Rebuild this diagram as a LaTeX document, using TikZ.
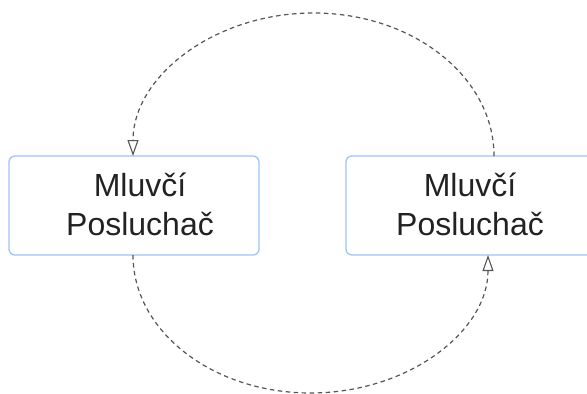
\documentclass[tikz,border=0pt]{standalone}
\usepackage{fontspec}
\setmainfont{Liberation Sans}
\usetikzlibrary{arrows.meta}
\definecolor{boxblue}{HTML}{9EC5F8}
\definecolor{dashgray}{HTML}{555555}
\definecolor{txt}{HTML}{222222}
\tikzset{
  roundbox/.style={draw=boxblue, line width=1.3pt, rounded corners=6pt, fill=white,
    minimum width=250pt, minimum height=99pt, inner sep=0pt},
  lbl/.style={text=txt, font=\fontsize{32}{39}\selectfont, align=center, inner sep=0pt},
  flow/.style={draw=dashgray, line width=1.2pt, dash pattern=on 4.5pt off 3.5pt,
    -{Triangle[open, length=16pt, width=11pt, line width=1.1pt]}}
}
\begin{document}
\begin{tikzpicture}[x=1pt,y=1pt]
\useasboundingbox (0,0) rectangle (587,-394);
\clip (0,0) rectangle (587,-394);
\node[roundbox] (L) at (134,-205.5) {};
\node[roundbox] (R) at (471,-205.5) {};
\node[lbl] (Lt) at (140,-204) {Mluvčí\\Posluchač};
\node[lbl] (Rt) at (470,-204) {Mluvčí\\Posluchač};
\coordinate (ts) at (494,-156);
\coordinate (bs) at (133,-255);
\draw[flow] (ts) arc[start angle=0, end angle=180, x radius=180.5, y radius=143];
\draw[flow] (bs) arc[start angle=180, end angle=360, x radius=177.5, y radius=138];
\end{tikzpicture}
\end{document}
